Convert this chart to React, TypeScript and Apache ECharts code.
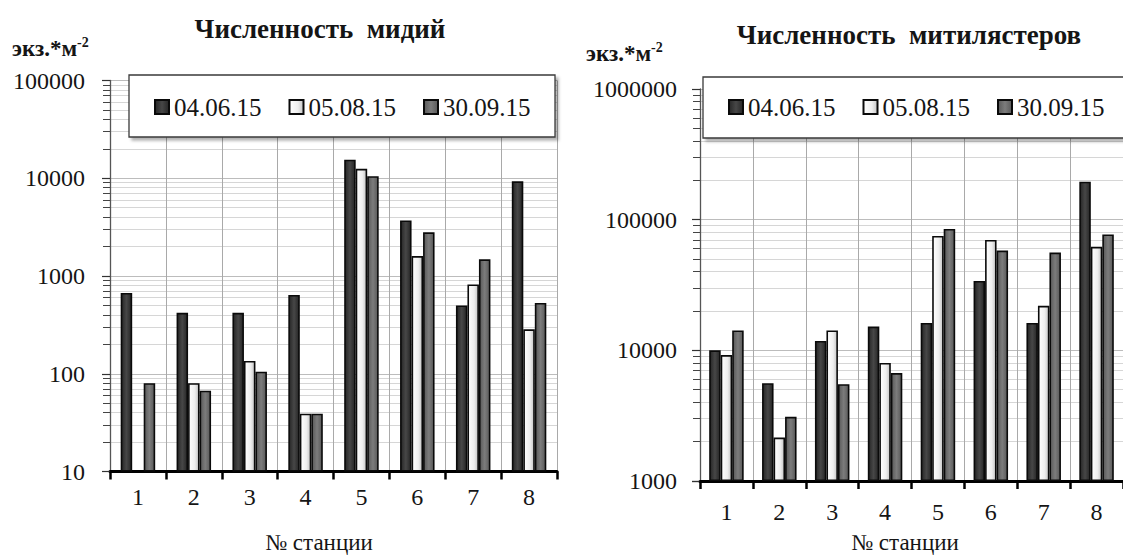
import React, { useEffect, useRef } from "react";
import * as echarts from "echarts";

const stations = ["1", "2", "3", "4", "5", "6", "7", "8"];
const dates = ["04.06.15", "05.08.15", "30.09.15"];

// Численность мидий
const musselsJun = [670, 420, 420, 640, 15500, 3700, 500, 9300];
const musselsAug = [null, 80, 135, 39, 12500, 1600, 820, 285];
const musselsSep = [80, 67, 105, 39, 10500, 2800, 1480, 530];

// Численность митилястеров
const mytJun = [10000, 5600, 11800, 15200, 16200, 34000, 16200, 195000];
const mytAug = [9200, 2150, 14200, 8000, 75000, 70000, 21900, 62000];
const mytSep = [14200, 3100, 5500, 6700, 85000, 58000, 56000, 77000];

const leftRange = [10, 100000];
const rightRange = [1000, 1000000];

const FONT = "Liberation Serif";
const INK = "#151515";

const grad = (stops: [number, string][]) =>
  new echarts.graphic.LinearGradient(
    0, 0, 1, 0,
    stops.map(([offset, color]) => ({ offset, color }))
  );

const barColors = [
  () => grad([[0, "#262626"], [0.5, "#474747"], [1, "#262626"]]),
  () => grad([[0, "#ffffff"], [0.6, "#eeeeee"], [1, "#c4c4c4"]]),
  () => grad([[0, "#595959"], [0.5, "#7c7c7c"], [1, "#595959"]]),
];

export default function App() {
  const ref = useRef<HTMLDivElement>(null);

  useEffect(() => {
    if (!ref.current) return;
    const chart = echarts.init(ref.current, undefined, { renderer: "svg" });

    const xAxis = (gridIndex: number, margin: number) => ({
      type: "category",
      gridIndex,
      data: stations,
      axisLine: { onZero: false, lineStyle: { color: "#000", width: 3 } },
      axisTick: { show: true, length: 8, lineStyle: { color: "#000", width: 2.5 } },
      axisLabel: { fontFamily: FONT, fontSize: 24, color: INK, margin },
      splitLine: { show: true, lineStyle: { color: "#a9a9a9", width: 1 } },
    });

    const yAxis = (gridIndex: number, range: number[], margin: number) => ({
      type: "log",
      logBase: 10,
      gridIndex,
      min: range[0],
      max: range[1],
      startValue: range[0],
      axisLine: { show: true, lineStyle: { color: "#555", width: 1.3 } },
      axisTick: { show: true, length: 8, lineStyle: { color: "#333", width: 1.2 } },
      minorTick: { show: true, splitNumber: 9, length: 7, lineStyle: { color: "#444", width: 1 } },
      splitLine: { show: true, lineStyle: { color: "#bcbcbc", width: 1 } },
      minorSplitLine: { show: true, lineStyle: { color: "#d6d6d6", width: 1 } },
      axisLabel: {
        fontFamily: FONT,
        fontSize: 24,
        color: INK,
        margin,
        formatter: (v: number) => String(Math.round(v)),
      },
    });

    const mkSeries = (name: string, data: (number | null)[], idx: number, colorIdx: number) => ({
      name,
      type: "bar",
      xAxisIndex: idx,
      yAxisIndex: idx,
      data,
      barWidth: 11.5,
      barGap: "0%",
      clip: true,
      itemStyle: { color: barColors[colorIdx](), borderColor: "#0a0a0a", borderWidth: 1.6 },
      emphasis: { disabled: true },
    });

    const legend = (left: number) => ({
      left,
      top: 93,
      padding: 0,
      itemWidth: 14,
      itemHeight: 14,
      itemGap: 27,
      icon: "rect",
      selectedMode: false,
      z: 10,
      data: dates,
      textStyle: { fontFamily: FONT, fontSize: 25, color: INK, lineHeight: 28 },
    });

    const text = (x: number, y: number, t: string, font: string, align = "center") => ({
      type: "text",
      x,
      y,
      z: 10,
      style: { text: t, font, fill: INK, textAlign: align, textVerticalAlign: "middle" },
    });

    const unit = (x: number, y: number) => ({
      type: "text",
      x,
      y,
      z: 10,
      style: {
        text: "{a|экз.*м}{b|-2}",
        fill: INK,
        textAlign: "left",
        textVerticalAlign: "middle",
        rich: {
          a: { fontFamily: FONT, fontWeight: "bold", fontSize: 23, color: INK, lineHeight: 26 },
          b: { fontFamily: FONT, fontWeight: "bold", fontSize: 14, color: INK, lineHeight: 26, verticalAlign: "top" },
        },
      },
    });

    const box = (x: number, y: number, w: number, h: number) => ({
      type: "rect",
      z: 3,
      shape: { x, y, width: w, height: h },
      style: {
        fill: "#ffffff",
        stroke: "#3a3a3a",
        lineWidth: 1.3,
        shadowBlur: 3,
        shadowOffsetX: 3,
        shadowOffsetY: 3,
        shadowColor: "rgba(0,0,0,0.3)",
      },
    });

    chart.setOption({
      animation: false,
      backgroundColor: "#ffffff",
      grid: [
        { left: 110, top: 80.5, width: 447, height: 391, containLabel: false },
        { left: 700, top: 89, width: 436, height: 392, containLabel: false },
      ],
      xAxis: [xAxis(0, 13), xAxis(1, 19)],
      yAxis: [yAxis(0, leftRange, 25), yAxis(1, rightRange, 23)],
      legend: [legend(154), legend(728)],
      series: [
        mkSeries(dates[0], musselsJun, 0, 0),
        mkSeries(dates[1], musselsAug, 0, 1),
        mkSeries(dates[2], musselsSep, 0, 2),
        mkSeries(dates[0], mytJun, 1, 0),
        mkSeries(dates[1], mytAug, 1, 1),
        mkSeries(dates[2], mytSep, 1, 2),
      ],
      graphic: {
        elements: [
          box(129, 75, 426, 62),
          box(703, 77, 440, 61),
          text(320, 29, "Численность  мидий", `bold 27px ${FONT}`),
          text(909, 35, "Численность  митилястеров", `bold 27px ${FONT}`),
          unit(12, 48),
          unit(586, 53),
          text(319, 542, "№ станции", `23px ${FONT}`),
          text(905, 542, "№ станции", `23px ${FONT}`),
        ],
      },
    });

    return () => chart.dispose();
  }, []);

  return (
    <div
      ref={ref}
      style={{ position: "fixed", left: 0, top: 0, width: 1123, height: 556, background: "#fff" }}
    />
  );
}
